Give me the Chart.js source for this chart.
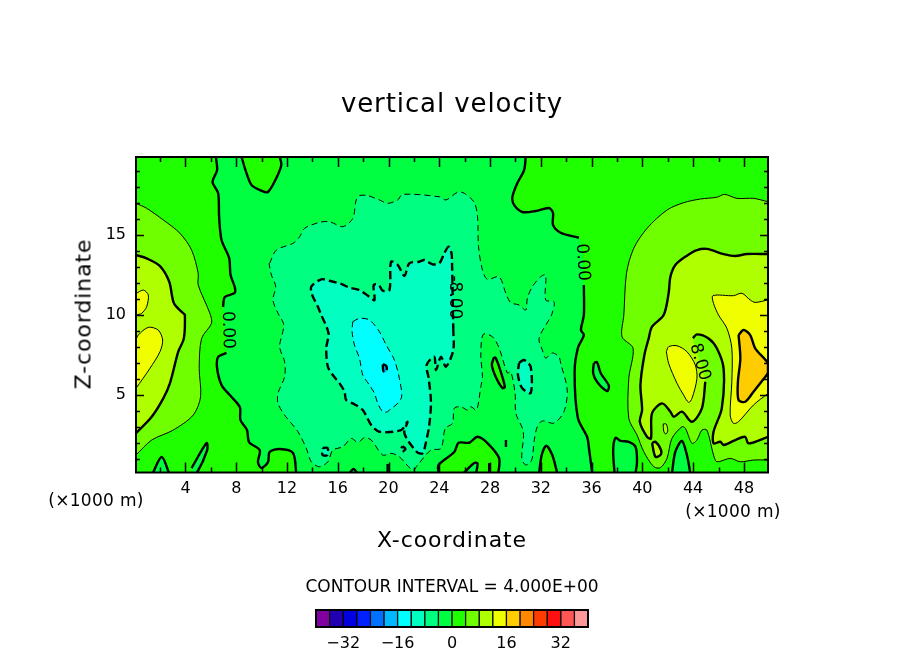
<!DOCTYPE html>
<html>
<head>
<meta charset="utf-8">
<title>vertical velocity</title>
<script src="https://cdn.jsdelivr.net/npm/chart.js@4/dist/chart.umd.min.js"></script>
<style>
  html, body { margin: 0; padding: 0; background: #fff; }
  #page { position: relative; width: 904px; height: 654px; overflow: hidden; font-family: "DejaVu Sans", sans-serif; color: #000; }
  canvas { position: absolute; }
  #main { left: 0; top: 0; }
  #bar { left: 296px; top: 600px; }
  .txt { position: absolute; white-space: nowrap; transform: translate(-50%, -50%); }
  #title { left: 452px; top: 103px; font-size: 26px; letter-spacing: 0.9px; }
  #xname { left: 452px; top: 539px; font-size: 22px; letter-spacing: 0.9px; }
  #zname { left: 83px; top: 314px; font-size: 22px; letter-spacing: 0.9px; transform: translate(-50%, -50%) rotate(-90deg); }
  #unit1 { left: 96px; top: 500px; font-size: 17px; letter-spacing: 0.3px; }
  #unit2 { left: 733px; top: 511px; font-size: 17px; letter-spacing: 0.3px; }
  #interval { left: 452px; top: 586px; font-size: 17px; }
</style>
</head>
<body>
<div id="page">
  <canvas id="main" width="904" height="654"></canvas>
  <canvas id="bar" width="312" height="54"></canvas>
  <div class="txt" id="title">vertical velocity</div>
  <div class="txt" id="xname">X-coordinate</div>
  <div class="txt" id="zname">Z-coordinate</div>
  <div class="txt" id="unit1">(×1000 m)</div>
  <div class="txt" id="unit2">(×1000 m)</div>
  <div class="txt" id="interval">CONTOUR INTERVAL = 4.000E+00</div>
</div>
<script>
// axes, in units of 1000 m
const xRange = [0.1, 49.9];
const zRange = [0.16, 19.875];
const xTicks = [2,4,6,8,10,12,14,16,18,20,22,24,26,28,30,32,34,36,38,40,42,44,46,48];
const xLabelled = [4,8,12,16,20,24,28,32,36,40,44,48];
const zTicks = [1,2,3,4,5,6,7,8,9,10,11,12,13,14,15,16,17,18,19];
const zLabelled = [5,10,15];

// colour scale
const barEdges = [-40,-36,-32,-28,-24,-20,-16,-12,-8,-4,0,4,8,12,16,20,24,28,32,36,40];
const barColors = ['#8000A0','#2000B0','#0000E0','#0020FF','#0070FF','#00B8FF','#00FFFF','#00FFC0','#00FF80','#00FF40',
                   '#20FF00','#70FF00','#B0FF00','#F0FF00','#FFCC00','#FF8800','#FF3C00','#FF1010','#FF5555','#FF9999'];
const barTicks = [-32,-16,0,16,32];

// contours as [x, z], null = gap left for a label
const zeroLeft = [[6.39,19.9],[6.49,19.06],[6.13,18.31],[6.57,17.63],[6.65,16.13],[6.84,14.69],[7.44,13.56],[7.55,12.5],[7.88,11.75],[7.88,11.38],[7.1,11.13],[6.96,10.5],null,
  [7.23,7.63],[6.57,7.38],[6.49,6.69],[6.84,5.63],[7.49,5],[8.28,4.25],[8.33,3.44],[8.85,2.81],[9.01,2.06],[9.85,1.56],[9.71,0.81],[9.98,0.44],[10.5,0.81],[10.63,1.44],[11.42,1.63],[12.47,1.38],[12.73,0.1]];
const zeroRight = [[30.81,19.9],[30.68,19.06],[30.15,18.25],[29.76,17.38],[29.89,16.88],[30.54,16.44],[31.6,16.5],[32.64,16.69],[32.96,16.38],[32.96,15.63],[33.56,15.14],[35,14.83],null,
  [35.39,11.88],[35.39,10],[35.16,9.06],[35.39,8.75],[34.92,7.94],[34.66,6.44],[34.92,3.56],[35.65,2.38],[35.79,1.69],[36.05,0.1]];
const zeroTop = [[8.41,19.9],[8.8,18.88],[9.2,18.13],[9.98,17.77],[10.5,17.69],[11.16,18.56],[11.55,19.38],[11.42,19.9]];
const zeroBottomA = [[23.94,0.1],[23.94,0.63],[25.18,1.44],[25.52,2.02],[26.36,2.02],[27.01,2.39],[27.79,2],[28.71,1.06],[28.65,0.1]];
const zeroBottomB = [[25.89,0.1],[26.75,0.75],[27.01,0.73],[26.89,0.1]];
const zeroBottomC = [[31.86,0.1],[32.07,1.25],[32.43,1.83],[32.9,1.25],[33.3,0.1]];
const zeroIsle = [[28.32,7.38],[28.14,6.88],[28.45,6.13],[28.97,5.44],[29.16,5.5],[28.85,6.44],[28.45,7.31]];
const zeroStubA = [[19.93,0.69],[19.93,0.1]];
const zeroStubB = [[27.93,0.75],[27.93,0.1]];
const zeroStubC = [[29.25,2.19],[29.25,1.75]];
const zeroStubD = [[16.92,0.1],[17.24,0.38],[17.55,0.1]];
const zeroPocketA = [[1.41,0.1],[2.12,1.13],[2.72,0.1]];
const zeroPocketB = [[4.48,0.44],[5.66,2],[5.71,1.56],[4.87,0.1],[4.58,0.1]];
const zeroPocketC = [[36.18,7],[36.12,6.38],[36.44,5.81],[37.22,5.25],[37.36,5.58],[36.71,6.38],[36.42,7.06]];
const zeroPocketD = [[37.81,0.1],[37.7,1.56],[37.89,2.33],[38.28,2.13],[38.93,2.08],[39.46,1.77],[39.58,0.83],[39.46,0.1]];
const zeroPocketE = [[42.33,0.1],[42.6,1.46],[43.12,2.13],[43.51,1.25],[43.78,0.1]];

const minus4 = [[10.63,13.23],[11.16,14.06],[12.47,14.48],[12.99,14.89],[13.39,15.42],[14.56,15.79],[15.35,15.83],[16.4,15.52],[17.18,16.04],[17.45,17.19],[17.71,17.46],[18.36,17.46],[19.28,17.19],[19.93,16.98],[20.72,17.19],[21.11,17.54],[24,17.39],[24.52,17.19],[25.44,17.67],[25.96,17.61],[26.75,17.04],[27.01,16.14],[27.09,14.27],[27.4,12.81],[27.79,12.23],[28.71,12.39],[29.24,11.36],[29.63,10.77],[30.28,10.63],[30.81,10.31],[30.94,11.06],[31.33,11.77],[31.99,12.39],[32.38,12.5],[32.38,10.94],[33.04,10.83],[32.9,10.13],[32.7,9.79],[31.86,8.54],[32.12,7.81],[32.38,7.31],[32.9,7.63],[33.43,7.39],[33.56,7],[34.08,5.31],[33.82,3.96],[33.04,3.25],[32.12,3.38],[31.72,3.02],[31.46,2.08],[31.28,0.94],[30.81,0.63],[30.5,1.04],[30.62,2.71],[30.03,3.86],[29.97,5.13],[29.63,6.46],[29.36,6.38],[28.71,7.94],[28.19,8.64],[27.46,8.79],[27.27,7.5],[27.4,6.14],[27.27,5.52],[26.93,4.06],[26.49,4.27],[26.22,4.06],[25.7,4.27],[25.18,4.17],[25.04,3.23],[24.47,2.92],[24.13,1.67],[23.34,1.56],[22.29,0.63],[21.9,0.31],[20.85,1.14],[20.2,1.36],[19.54,1.25],[18.63,2.19],[18.1,2.33],[17.58,2.04],[17.06,2.29],[16.4,1.77],[15.61,1.56],[15.22,0.83],[14.56,0.52],[13.91,0.83],[13.52,1.67],[12.86,2.71],[11.81,3.75],[11.29,4.48],[11.29,5.11],[11.81,6.14],[11.81,7.08],[11.42,8.02],[11.74,9.38],[11.29,10.11],[10.89,10.94],[11.11,11.77],[10.77,12.5],[10.58,13.23]];
const minus8 = [[25.1,9.17],[25.1,7.81],[24.52,6.77],[24.13,7.39],[23.74,6.56],[23.6,7.39],[23,6.88],[23.16,6.06],[23.34,4.58],[23.21,3.13],[22.9,1.88],[22.69,1.36],[22.21,1.46],[21.25,2.61],[21.5,3.33],[20.99,2.81],[19.28,2.71],[18.63,3.13],[17.97,4.06],[17.18,4.48],[16.66,4.69],[16.53,5.21],[16.14,5.73],[15.61,6.25],[15.22,6.77],[15.09,7.92],[15.27,8.86],[14.7,10],[14.43,10.52],[13.99,11.25],[13.91,11.77],[14.7,12.23],[15.35,12.14],[16.27,11.94],[16.92,11.71],[17.71,11.56],[18.49,11.14],[18.89,10.94],[18.83,11.88],[19.23,11.88],[19.54,11.52],[20.07,11.56],[20.2,13.33],[20.72,13.13],[21.25,12.44],[21.64,13.23],[22.42,13.33],[22.82,13.44],[23.47,13.17],[24,13.23],[24.39,13.86],[24.73,14.27],[24.96,13.86],[25,13.31]];
const minus8IsleA = [[30.28,7],[30.68,7.19],[31.2,6.75],[31.2,5.13],[30.52,5.44],[30.2,6.25]];
const minus8IsleB = [[14.8,1.69],[15.19,1.69],[15.19,1.25],[14.8,1.25]];
const minus8IsleC = [[21.09,1.81],[21.33,1.63],[21.09,1.46],[21.01,1.63]];
const minus12 = [[17.18,9.58],[17.71,9.79],[18.49,9.69],[19.28,8.96],[19.81,8.13],[20.46,7.19],[20.85,6.04],[21.03,4.89],[20.59,4.38],[20.2,4.17],[19.93,3.96],[19.54,3.96],[19.15,4.48],[18.89,5.11],[18.49,5.63],[17.97,6.25],[17.71,7.29],[17.31,8.13],[17.13,8.96]];
const minus16 = [[19.55,6.94],[19.83,6.81],[19.83,6.44],[19.59,6.5]];

const plus4Left = [[0.1,16.98],[0.94,16.67],[2.25,15.94],[3.56,15.11],[4.48,14.06],[5,12.61],[5,11.88],[5.92,10.11],[6.05,9.48],[5.27,8.54],[5.08,6.67],[5.19,4.89],[4.61,3.75],[3.03,2.81],[1.34,2.19],[0.1,1.25]];
const plus8Left = [[0.1,13.75],[0.94,13.54],[1.99,13.06],[2.72,12.08],[3.09,10.73],[3.82,10.11],[3.95,10],[3.87,8.54],[3.43,7.71],[2.77,5.73],[2.25,4.79],[1.34,3.64],[0.1,2.61]];
const plus12LeftA = [[0.1,11.34],[0.68,11.56],[1.07,11.25],[0.94,10.52],[0.55,10.11],[0.1,10]];
const plus12LeftB = [[0.1,8.44],[0.28,8.75],[1.07,9.23],[1.85,9.06],[2.2,8.44],[1.99,7.71],[1.2,6.67],[0.1,5.42]];
const plus4Right = [[49.9,17.08],[48.76,17.29],[47.45,17.29],[46.48,17.54],[45.87,17.36],[44.57,17.25],[43.25,17.02],[41.94,16.56],[40.37,15.42],[39.32,14.17],[38.75,12.61],[38.54,10],[38.4,8.64],[39.27,7.92],[38.93,6.04],[38.93,3.54],[39.58,2.5],[40.11,1.46],[40.9,0.52],[41.42,0.46],[41.94,1.04],[42.33,2.29],[43.12,3.02],[43.39,2.92],[43.91,1.98],[44.3,2.19],[44.69,2.81],[45.08,2.81],[45.61,1.25],[45.87,0.83],[46.92,1.04],[47.71,0.83],[48.76,0.94],[49.9,0.94]];
const plus4Isle = [[41.64,3.19],[41.88,3.19],[42,2.75],[41.84,2.56],[41.68,2.75]];
const plus8Right = [[49.9,13.81],[48.23,13.81],[47.32,13.69],[46.4,13.81],[45.08,14.13],[44.3,14.06],[43.51,13.71],[42.6,13.13],[42.21,12.39],[42.07,11.36],[41.68,10],[40.76,9.27],[40.5,8.54],[40.16,7.5],[39.85,5.63],[39.98,4.06],[39.8,3.33],[40.37,2.39],[40.68,2.29],[40.76,3.86],[41.55,4.48],[42.21,3.96],[42.47,3.64],[43.12,3.96],[43.91,3.33],[44.69,4.17],[44.96,5.83],null,
  [43.98,8.56],[44.3,8.79],[45.22,8.54],[45.87,7.92],[46.4,6.67],[46.26,4.17],[45.61,2.71],[45.61,1.98],[46.14,2.08],[46.4,1.88],[47.32,2.19],[48.1,2.39],[48.36,1.98],[49.9,2.39]];
const plus8Isle = [[40.76,2],[41.03,1.14],[41.42,1.25],[41.47,1.56],[41.03,2.08]];
const plus12Right = [[49.9,10.94],[48.89,10.79],[48.5,10.94],[47.84,11.36],[47.18,11.21],[45.56,11.21],[45.61,10.73],[46,10],[46.66,9.17],[47.05,7.92],[47.05,5.83],[46.92,3.75],[47.18,3.23],[47.57,3.33],[48.76,4.38],[49.9,5.1]];
const plus12Inner = [[41.89,7.71],[42.07,8.02],[42.73,8.08],[43.51,7.71],[44.17,6.88],[44.3,6.04],[43.91,4.79],[43.65,4.54],[43.25,5],[42.73,5.73],[42.07,6.98]];
const plus16 = [[47.58,8.75],[47.97,9.06],[48.5,8.75],[48.89,7.92],[49.9,6.98],[49.9,6.4],[49.55,6],[48.76,5.21],[48.1,4.58],[47.58,4.69],[47.53,5.83],[47.72,7.29]];

// text, x, z, rotation in degrees
const contourLabels = [
  ['0.00', 7.33, 9.06, 88],
  ['0.00', 35.28, 13.3, 86],
  ['-8.00', 25.18, 11.1, 90],
  ['8.00', 44.52, 7.06, 74]
];

const CURVE = 0.3;

function bandColor(low) {
  return barColors[barEdges.indexOf(low)];
}

function toPoints(path) {
  return path.map(function(p) { return p ? { x: p[0], y: p[1] } : { x: null, y: null }; });
}

function fillSet(path, low, straight) {
  return {
    data: toPoints(path.filter(function(p) { return p; })),
    showLine: true, fill: 'shape', backgroundColor: bandColor(low),
    borderWidth: 0, pointRadius: 0, tension: straight ? 0 : CURVE
  };
}

function lineSet(path, level, closed) {
  var thick = level % 8 === 0;
  var pts = closed ? path.concat([path[0]]) : path;
  return {
    data: toPoints(pts),
    showLine: true, fill: false, borderColor: '#000', tension: CURVE,
    borderWidth: thick ? 2.4 : 1, borderDash: level < 0 ? (thick ? [8, 4] : [6, 4]) : [],
    pointRadius: 0
  };
}

function buildDatasets() {
  var sets = [];
  var box = [[xRange[0],zRange[0]],[xRange[1],zRange[0]],[xRange[1],zRange[1]],[xRange[0],zRange[1]]];
  var middle = zeroLeft.concat(zeroRight.slice().reverse());

  sets.push(fillSet(box, 0, true));
  sets.push(fillSet(middle, -4));
  [zeroTop, zeroBottomA, zeroBottomC, zeroIsle].forEach(function(p) { sets.push(fillSet(p, 0)); });
  [zeroBottomB, zeroPocketA, zeroPocketB, zeroPocketC, zeroPocketD, zeroPocketE].forEach(function(p) { sets.push(fillSet(p, -4)); });
  sets.push(fillSet(minus4, -8));
  sets.push(fillSet(minus8, -12));
  [minus8IsleA, minus8IsleB, minus8IsleC].forEach(function(p) { sets.push(fillSet(p, -12)); });
  sets.push(fillSet(minus12, -16));
  sets.push(fillSet(minus16, -20));
  [plus4Left, plus4Right].forEach(function(p) { sets.push(fillSet(p, 4)); });
  [plus8Left, plus8Right, plus8Isle, plus4Isle].forEach(function(p) { sets.push(fillSet(p, 8)); });
  [plus12LeftA, plus12LeftB, plus12Right, plus12Inner].forEach(function(p) { sets.push(fillSet(p, 12)); });
  sets.push(fillSet(plus16, 16));

  [zeroLeft, zeroRight, zeroTop, zeroBottomA, zeroBottomB, zeroBottomC, zeroStubA, zeroStubB, zeroStubC, zeroStubD,
   zeroPocketA, zeroPocketB, zeroPocketD, zeroPocketE].forEach(function(p) { sets.push(lineSet(p, 0, false)); });
  [zeroIsle, zeroPocketC].forEach(function(p) { sets.push(lineSet(p, 0, true)); });
  sets.push(lineSet(minus4, -4, false));
  sets.push(lineSet(minus8, -8, true));
  [minus8IsleA, minus8IsleB, minus8IsleC].forEach(function(p) { sets.push(lineSet(p, -8, true)); });
  sets.push(lineSet(minus12, -12, true));
  sets.push(lineSet(minus16, -16, true));
  [plus4Left, plus4Right].forEach(function(p) { sets.push(lineSet(p, 4, false)); });
  sets.push(lineSet(plus4Isle, 4, true));
  [plus8Left, plus8Right].forEach(function(p) { sets.push(lineSet(p, 8, false)); });
  sets.push(lineSet(plus8Isle, 8, true));
  [plus12LeftA, plus12LeftB, plus12Right].forEach(function(p) { sets.push(lineSet(p, 12, false)); });
  sets.push(lineSet(plus12Inner, 12, true));
  sets.push(lineSet(plus16, 16, true));

  // chart.js paints the highest order first
  sets.forEach(function(s, i) { s.order = sets.length - i; });
  return sets;
}

// frame, inward ticks on all four sides and the labels sitting on the contours
const framePlugin = {
  id: 'frame',
  afterDatasetsDraw: function(chart) {
    var ctx = chart.ctx, a = chart.chartArea, xs = chart.scales.x, zs = chart.scales.y;
    ctx.save();
    ctx.strokeStyle = '#000';
    ctx.lineWidth = 1.5;
    ctx.beginPath();
    xTicks.forEach(function(v) {
      var px = Math.round(xs.getPixelForValue(v)) + 0.5;
      var len = xLabelled.indexOf(v) >= 0 ? 10 : 5;
      ctx.moveTo(px, a.top); ctx.lineTo(px, a.top + len);
      ctx.moveTo(px, a.bottom); ctx.lineTo(px, a.bottom - len);
    });
    zTicks.forEach(function(v) {
      var py = Math.round(zs.getPixelForValue(v)) + 0.5;
      var len = zLabelled.indexOf(v) >= 0 ? 8 : 4;
      ctx.moveTo(a.left, py); ctx.lineTo(a.left + len, py);
      ctx.moveTo(a.right, py); ctx.lineTo(a.right - len, py);
    });
    ctx.stroke();
    ctx.lineWidth = 2;
    ctx.strokeRect(a.left, a.top, a.right - a.left, a.bottom - a.top);

    ctx.fillStyle = '#000';
    ctx.font = '17px "DejaVu Sans"';
    ctx.textAlign = 'center';
    ctx.textBaseline = 'middle';
    contourLabels.forEach(function(l) {
      ctx.save();
      ctx.translate(xs.getPixelForValue(l[1]), zs.getPixelForValue(l[2]));
      ctx.rotate(l[3] * Math.PI / 180);
      ctx.fillText(l[0], 0, 0);
      ctx.restore();
    });
    ctx.restore();
  }
};

new Chart(document.getElementById('main'), {
  type: 'scatter',
  data: { datasets: buildDatasets() },
  options: {
    responsive: false,
    animation: false,
    layout: { padding: { top: 157, right: 136, left: 0, bottom: 0 } },
    plugins: { legend: { display: false }, tooltip: { enabled: false } },
    scales: {
      x: {
        type: 'linear', min: xRange[0], max: xRange[1],
        afterBuildTicks: function(s) { s.ticks = xTicks.map(function(v) { return { value: v }; }); },
        afterFit: function(s) { s.height = 181.5; },
        grid: { display: false, drawTicks: false }, border: { display: false },
        ticks: {
          autoSkip: false, maxRotation: 0, padding: 7, color: '#000', font: { family: 'DejaVu Sans', size: 16 },
          callback: function(v) { return xLabelled.indexOf(v) >= 0 ? String(v) : ''; }
        }
      },
      y: {
        type: 'linear', min: zRange[0], max: zRange[1],
        afterBuildTicks: function(s) { s.ticks = zTicks.map(function(v) { return { value: v }; }); },
        afterFit: function(s) { s.width = 136; },
        grid: { display: false, drawTicks: false }, border: { display: false },
        ticks: {
          autoSkip: false, padding: 10, color: '#000', font: { family: 'DejaVu Sans', size: 16 },
          callback: function(v) { return zLabelled.indexOf(v) >= 0 ? String(v) : ''; }
        }
      }
    }
  },
  plugins: [framePlugin]
});

const barFramePlugin = {
  id: 'barFrame',
  afterDatasetsDraw: function(chart) {
    var a = chart.chartArea, ctx = chart.ctx;
    ctx.save();
    ctx.strokeStyle = '#000';
    ctx.lineWidth = 2;
    ctx.strokeRect(a.left, a.top, a.right - a.left, a.bottom - a.top);
    ctx.restore();
  }
};

new Chart(document.getElementById('bar'), {
  type: 'bar',
  data: {
    labels: ['level'],
    datasets: barColors.map(function(c, i) {
      return {
        data: [[barEdges[i], barEdges[i + 1]]],
        backgroundColor: c, borderColor: '#000', borderWidth: 1, borderSkipped: false,
        grouped: false, barPercentage: 1, categoryPercentage: 1
      };
    })
  },
  options: {
    indexAxis: 'y',
    responsive: false,
    animation: false,
    layout: { padding: { top: 10, left: 20, right: 20, bottom: 0 } },
    plugins: { legend: { display: false }, tooltip: { enabled: false } },
    scales: {
      y: { display: false },
      x: {
        type: 'linear', min: barEdges[0], max: barEdges[barEdges.length - 1],
        afterBuildTicks: function(s) { s.ticks = barTicks.map(function(v) { return { value: v }; }); },
        afterFit: function(s) { s.height = 27; },
        grid: { display: false, drawTicks: false }, border: { display: false },
        ticks: {
          autoSkip: false, maxRotation: 0, padding: 7, color: '#000', font: { family: 'DejaVu Sans', size: 16 },
          callback: function(v) { return String(v).replace('-', '\u2212'); }
        }
      }
    }
  },
  plugins: [barFramePlugin]
});
</script>
</body>
</html>
